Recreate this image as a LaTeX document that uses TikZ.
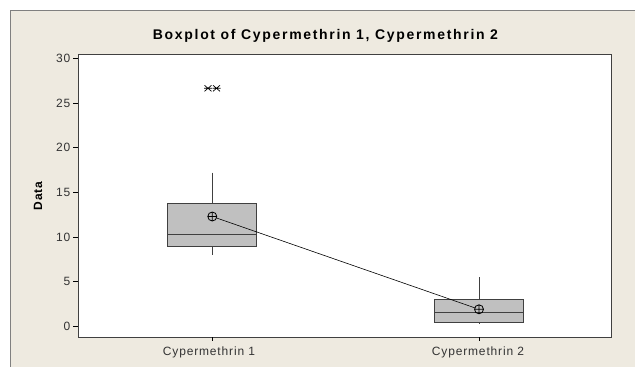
\documentclass[tikz,border=0pt]{standalone}
\usepackage{fontspec}
\setmainfont{Liberation Sans}
\newfontfamily\titlefont[LetterSpace=12]{Liberation Sans Bold}
\newfontfamily\labfont[LetterSpace=7]{Liberation Sans}
\newfontfamily\ylabfont[LetterSpace=6]{Liberation Sans Bold}
\definecolor{panel}{RGB}{238,234,224}
\definecolor{boxfill}{RGB}{192,192,192}
\definecolor{boxline}{RGB}{64,64,64}
\definecolor{framegray}{RGB}{128,128,128}
\begin{document}
\begin{tikzpicture}[x=1pt,y=-1pt,
  boxst/.style={fill=boxfill,draw=boxline,line width=0.9pt},
  whisk/.style={draw=boxline,line width=0.9pt},
  tickst/.style={draw=black,line width=0.7pt},
  ticklab/.style={anchor=east,inner sep=0pt,font=\labfont\fontsize{12}{14}\selectfont,text=black!80},
  xlab/.style={anchor=center,inner sep=0pt,font=\labfont\fontsize{12}{14}\selectfont,text=black!80},
  outl/.style={draw=black,line width=0.7pt}]
\useasboundingbox (0,0) rectangle (635,367);
% outer panel
\fill[white] (0,0) rectangle (635,367);
\fill[panel] (10.5,10.5) rectangle (635,367);
\draw[framegray,line width=1pt] (10.5,367) -- (10.5,10.5) -- (635,10.5);
% plot area
\fill[white] (78,54) rectangle (611.7,337.3);
\draw[boxline,line width=1pt] (78,54) rectangle (611.7,337.3);
% title
\node[inner sep=0pt,font=\titlefont\fontsize{14}{16}\selectfont] (title) at (325.5,36) {Boxplot of Cypermethrin 1, Cypermethrin 2};
% y axis label
\node[inner sep=0pt,rotate=90,font=\ylabfont\fontsize{12}{14}\selectfont] (ylab) at (38,196) {Data};
% y ticks
\foreach \v/\nm in {0/a,5/b,10/c,15/d,20/e,25/f,30/g}{
  \draw[tickst] (73,{326.3-8.93*\v}) -- (78,{326.3-8.93*\v});
  \node[ticklab] (yt\nm) at (70.5,{326.3-8.93*\v}) {\v};
}
% x ticks
\draw[tickst] (212.3,337.3) -- (212.3,341);
\draw[tickst] (479,337.3) -- (479,341);
\node[xlab] (xl1) at (209,352.5) {Cypermethrin 1};
\node[xlab] (xl2) at (478,352.5) {Cypermethrin 2};
% box 1
\draw[whisk] (212.3,172.7) -- (212.3,203.1);
\draw[whisk] (212.3,246.8) -- (212.3,255.3);
\draw[boxst] (167.5,203.1) rectangle (256,246.8);
\draw[whisk] (167.5,234.7) -- (256,234.7);
% box 2
\draw[whisk] (479,277) -- (479,299.7);
\draw[whisk] (479,322) -- (479,323.7);
\draw[boxst] (434,299.7) rectangle (523,322);
\draw[whisk] (434,312) -- (523,312);
% outliers
\foreach \x in {208,216.5}{
  \draw[outl] (\x-3.5,85.3) -- (\x+3.5,91.3) (\x-3.5,91.3) -- (\x+3.5,85.3) (\x-4,88.3) -- (\x+4,88.3);
}
% means
\coordinate (m1) at (212.3,216.5);
\coordinate (m2) at (479,309.3);
\draw[black,line width=0.8pt] (m1) circle (4.5) (m1) ++(-4.5,0) -- ++(9,0) (m1) ++(0,-4.5) -- ++(0,9);
\draw[black,line width=0.8pt] (m2) circle (4.5) (m2) ++(-4.5,0) -- ++(9,0) (m2) ++(0,-4.5) -- ++(0,9);
\draw[black,line width=0.6pt,shorten <=4.5pt,shorten >=4.5pt] (m1) -- (m2);
\end{tikzpicture}
\end{document}
